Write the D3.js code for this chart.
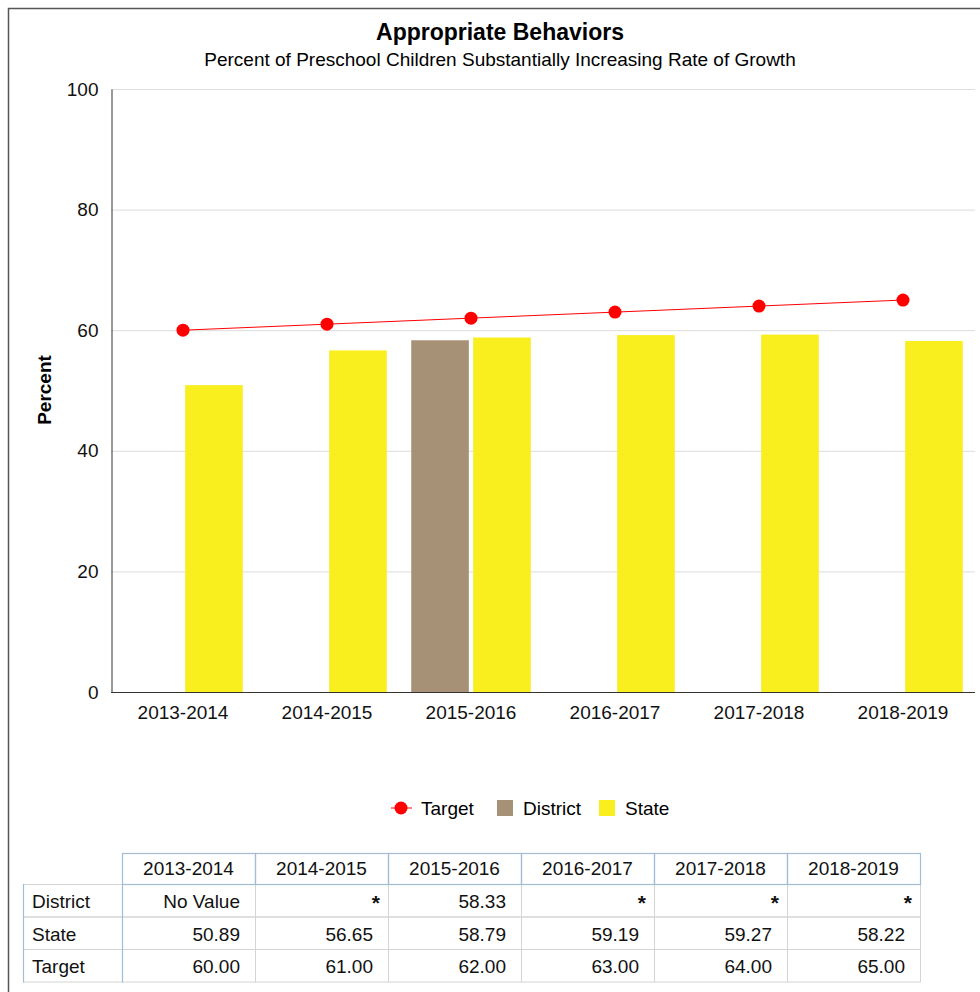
<!DOCTYPE html>
<html>
<head>
<meta charset="utf-8">
<script src="https://cdn.jsdelivr.net/npm/d3@7"></script>
<style>
  body { margin: 0; background: #fff; }
  svg { font-family: "Liberation Sans", Arial, sans-serif; display: block; }
</style>
</head>
<body>
<svg id="chart" width="980" height="992"></svg>
<script>
// chart data
const years = ['2013-2014', '2014-2015', '2015-2016', '2016-2017', '2017-2018', '2018-2019']
const district = [null, null, 58.33, null, null, null]
const districtText = ['No Value', '*', '58.33', '*', '*', '*']
const state = [50.89, 56.65, 58.79, 59.19, 59.27, 58.22]
const target = [60.00, 61.00, 62.00, 63.00, 64.00, 65.00]
const yTicks = [0, 20, 40, 60, 80, 100]

const colors = { target: '#ff0000', district: '#a69076', state: '#f9ee1e' }

const svg = d3.select('#chart')

// outer frame
svg.append('path')
    .attr('d', 'M8.5,992 L8.5,8.5 L980,8.5')
    .attr('fill', 'none')
    .attr('stroke', '#555')
    .attr('stroke-width', 1.5)

svg.append('text')
    .attr('x', 500).attr('y', 40)
    .attr('text-anchor', 'middle')
    .attr('font-size', 23).attr('font-weight', 'bold')
    .text('Appropriate Behaviors')

svg.append('text')
    .attr('x', 500).attr('y', 66)
    .attr('text-anchor', 'middle')
    .attr('font-size', 19)
    .text('Percent of Preschool Children Substantially Increasing Rate of Growth')

const plot = { left: 111, right: 975, top: 89, bottom: 692 }

const x = d3.scaleBand().domain(years).range([plot.left, plot.right]).paddingInner(0.17).paddingOuter(0.085)
const xSub = d3.scaleBand().domain(['district', 'state']).range([0, x.bandwidth()]).paddingInner(0.07)
const y = d3.scaleLinear().domain([0, 100]).range([plot.bottom, plot.top])

// grid
svg.append('g')
    .selectAll('line')
    .data(yTicks.filter(d => d > 0))
    .join('line')
    .attr('x1', plot.left).attr('x2', plot.right)
    .attr('y1', d => y(d) + 0.5).attr('y2', d => y(d) + 0.5)
    .attr('stroke', '#dcdcdc')

// y axis
const yAxis = svg.append('g')
    .attr('transform', `translate(${plot.left + 0.5},0)`)
    .call(d3.axisLeft(y).tickValues(yTicks).tickSize(0).tickPadding(13))
yAxis.select('.domain').attr('stroke', '#333')
yAxis.selectAll('text').attr('font-size', 19).attr('fill', '#111').attr('font-family', '"Liberation Sans", Arial, sans-serif')

svg.append('text')
    .attr('transform', 'translate(51,390) rotate(-90)')
    .attr('text-anchor', 'middle')
    .attr('font-size', 19).attr('font-weight', 'bold')
    .text('Percent')

// bars
const groups = svg.append('g')
    .selectAll('g')
    .data(years)
    .join('g')
    .attr('transform', d => `translate(${x(d)},0)`)

groups.append('rect')
    .filter((d, i) => district[i] != null)
    .attr('x', xSub('district'))
    .attr('width', xSub.bandwidth())
    .attr('y', d => y(district[years.indexOf(d)]))
    .attr('height', d => y(0) - y(district[years.indexOf(d)]))
    .attr('fill', colors.district)

groups.append('rect')
    .attr('x', xSub('state'))
    .attr('width', xSub.bandwidth())
    .attr('y', (d, i) => y(state[i]))
    .attr('height', (d, i) => y(0) - y(state[i]))
    .attr('fill', colors.state)

// x axis
const xAxis = svg.append('g')
    .attr('transform', `translate(0,${plot.bottom + 0.5})`)
    .call(d3.axisBottom(x).tickSize(0).tickPadding(13))
xAxis.select('.domain').attr('stroke', '#333').attr('d', `M${plot.left},0H${plot.right}`)
xAxis.selectAll('text').attr('font-size', 19).attr('fill', '#111').attr('font-family', '"Liberation Sans", Arial, sans-serif')

// target line
const cx = d => x(d) + x.bandwidth() / 2
svg.append('path')
    .datum(years)
    .attr('fill', 'none')
    .attr('stroke', colors.target)
    .attr('stroke-width', 1)
    .attr('d', d3.line().x(cx).y((d, i) => y(target[i])))

svg.append('g')
    .selectAll('circle')
    .data(years)
    .join('circle')
    .attr('cx', cx)
    .attr('cy', (d, i) => y(target[i]))
    .attr('r', 6.5)
    .attr('fill', colors.target)

// legend
const legend = svg.append('g').attr('font-size', 19)
legend.append('line').attr('x1', 391).attr('x2', 412).attr('y1', 808).attr('y2', 808).attr('stroke', colors.target)
legend.append('circle').attr('cx', 401).attr('cy', 808).attr('r', 6.5).attr('fill', colors.target)
legend.append('text').attr('x', 421).attr('y', 815).text('Target')
legend.append('rect').attr('x', 497).attr('y', 800).attr('width', 16).attr('height', 16).attr('fill', colors.district)
legend.append('text').attr('x', 523).attr('y', 815).text('District')
legend.append('rect').attr('x', 599).attr('y', 800).attr('width', 16).attr('height', 16).attr('fill', colors.state)
legend.append('text').attr('x', 625).attr('y', 815).text('State')

// data table
const tbl = { left: 23, labelW: 99, colW: 133, top: 853, headH: 31, rowH: 32.5 }
const rows = [
    { name: 'District', vals: districtText },
    { name: 'State', vals: state.map(v => v.toFixed(2)) },
    { name: 'Target', vals: target.map(v => v.toFixed(2)) }
]
const colX = i => tbl.left + tbl.labelW + i * tbl.colW
const rowY = r => tbl.top + tbl.headH + r * tbl.rowH
const table = svg.append('g').attr('font-size', 19).attr('fill', '#111')
const grayLine = '#d4d4d4', blueLine = '#a3bcd6'

// body cells
rows.forEach((row, r) => {
    years.forEach((yr, i) => {
        const v = row.vals[i]
        table.append('rect')
            .attr('x', colX(i) + 0.5).attr('y', rowY(r) + 0.5)
            .attr('width', tbl.colW).attr('height', tbl.rowH)
            .attr('fill', 'none').attr('stroke', grayLine)
        table.append('text')
            .attr('x', colX(i) + tbl.colW - (v === '*' ? 8 : 15)).attr('y', rowY(r) + (v === '*' ? 26 : 24))
            .attr('text-anchor', 'end')
            .attr('font-size', v === '*' ? 21 : null)
            .attr('font-weight', v === '*' ? 'bold' : null)
            .text(v)
    })
    table.append('rect')
        .attr('x', tbl.left + 0.5).attr('y', rowY(r) + 0.5)
        .attr('width', tbl.labelW).attr('height', tbl.rowH)
        .attr('fill', 'none').attr('stroke', grayLine)
    table.append('text')
        .attr('x', tbl.left + 9).attr('y', rowY(r) + 24)
        .text(row.name)
})
// header cells
years.forEach((yr, i) => {
    table.append('rect')
        .attr('x', colX(i) + 0.5).attr('y', tbl.top + 0.5)
        .attr('width', tbl.colW).attr('height', tbl.headH)
        .attr('fill', 'none').attr('stroke', blueLine).attr('stroke-width', 1.2)
    table.append('text')
        .attr('x', colX(i) + tbl.colW / 2).attr('y', tbl.top + 22)
        .attr('text-anchor', 'middle')
        .text(yr)
})
// blue left edge of row labels
table.append('line')
    .attr('x1', tbl.left + 0.5).attr('x2', tbl.left + 0.5)
    .attr('y1', rowY(0)).attr('y2', rowY(3) + 1)
    .attr('stroke', blueLine).attr('stroke-width', 1.2)
table.append('line')
    .attr('x1', colX(0) + 0.5).attr('x2', colX(0) + 0.5)
    .attr('y1', rowY(0)).attr('y2', rowY(3) + 1)
    .attr('stroke', blueLine).attr('stroke-width', 1.2)
</script>
</body>
</html>
